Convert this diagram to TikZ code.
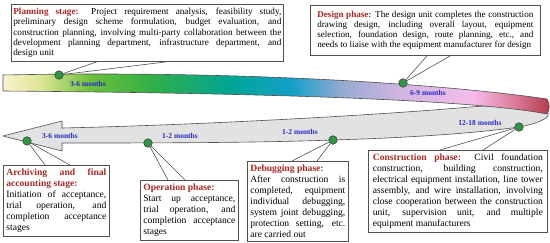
\documentclass[tikz,border=0pt]{standalone}
\usepackage{fontspec}
\setmainfont{Liberation Serif}
\usetikzlibrary{positioning,calc}

\definecolor{headred}{RGB}{168,40,40}
\definecolor{monthblue}{RGB}{40,40,200}
\definecolor{dotgreen}{RGB}{46,150,70}
\definecolor{bandgray}{RGB}{226,226,226}
\definecolor{edgegray}{RGB}{80,80,80}

\pgfdeclarehorizontalshading{ribbon}{100bp}{
  color(0bp)=(rgb,255:red,248;green,244;blue,205);
  color(25bp)=(rgb,255:red,248;green,244;blue,205);
  color(28.4bp)=(rgb,255:red,222;green,230;blue,150);
  color(33bp)=(rgb,255:red,110;green,190;blue,60);
  color(38.5bp)=(rgb,255:red,50;green,175;blue,70);
  color(45.9bp)=(rgb,255:red,0;green,165;blue,150);
  color(51.4bp)=(rgb,255:red,20;green,160;blue,200);
  color(56bp)=(rgb,255:red,150;green,170;blue,210);
  color(61.5bp)=(rgb,255:red,210;green,182;blue,225);
  color(67.9bp)=(rgb,255:red,245;green,188;blue,235);
  color(71.6bp)=(rgb,255:red,222;green,125;blue,155);
  color(75bp)=(rgb,255:red,175;green,60;blue,75);
  color(100bp)=(rgb,255:red,175;green,60;blue,75)}

\newcommand{\hd}[1]{\textbf{\color{headred}#1}}
\newcommand{\nobreaks}{\hyphenpenalty=10000 \exhyphenpenalty=10000 \tolerance=10000\relax}

\begin{document}
\begin{tikzpicture}[
    x=1pt, y=-1pt,
    box/.style={draw=edgegray, line width=0.7pt, fill=white, align=justify, anchor=north west,
      inner ysep=3.5pt, font=\fontsize{9.6}{11}\selectfont\nobreaks},
    topbox/.style={box, font=\fontsize{9.2}{10.4}\selectfont\nobreaks},
    dot/.style={circle, draw=black!75, fill=dotgreen, line width=0.6pt, minimum size=8.5pt, inner sep=0pt},
    month/.style={font=\fontsize{7.5}{8}\selectfont\bfseries, text=monthblue, inner sep=0pt},
    callout/.style={draw=edgegray, line width=0.6pt}
]
\useasboundingbox (0,0) rectangle (550,243);

% lower band, coming back as an arrow
\draw[fill=bandgray, draw=edgegray, line width=0.6pt]
  (62,128) .. controls (200,125) and (380,115) .. (470,107)
  .. controls (510,104) and (540,106) .. (548,113)
  .. controls (549,115) and (548,117) .. (546,118)
  .. controls (540,122) and (530,125) .. (519,127)
  .. controls (470,134) and (400,138) .. (333,140)
  .. controls (250,143) and (150,143) .. (62,143)
  -- (62,151) -- (3,136) -- (62,121) -- cycle;

% upper band
\draw[shading=ribbon, draw=edgegray, line width=0.6pt]
  (3,75) .. controls (250,70) and (450,85) .. (547,99)
  .. controls (550,104) and (550,110) .. (547,114)
  .. controls (470,99) and (250,93) .. (3,91) -- cycle;

% month labels
\node[month] (m1) at (88,84) {3-6 months};
\node[month] (m2) at (428,93) {6-9 months};
\node[month] (m3) at (480,123) {12-18 months};
\node[month] (m4) at (300,132) {1-2 months};
\node[month] (m5) at (180,136) {1-2 months};
\node[month] (m6) at (60,136) {3-6 months};

% text boxes
\node[topbox, text width=268pt, inner xsep=2pt] (plan) at (11,4)
  {\hd{Planning stage:} Project requirement analysis, feasibility study,\linebreak
   preliminary design scheme formulation, budget evaluation, and\linebreak
   construction planning, involving multi-party collaboration between the\linebreak
   development planning department, infrastructure department, and\linebreak
   design unit};
\node[topbox, text width=216pt, inner xsep=7pt, inner ysep=6pt,
  font=\fontsize{9.1}{10}\selectfont\nobreaks] (design) at (310,5)
  {\hd{Design phase:} The design unit completes the construction\linebreak
   drawing design, including overall layout, equipment\linebreak
   selection, foundation design, route planning, etc., and\linebreak
   needs to liaise with the equipment manufacturer for design};
\node[box, text width=170pt, inner xsep=4.5pt] (build) at (368,150)
  {\hd{Construction phase:} Civil foundation\linebreak
   construction, building construction,\linebreak
   electrical equipment installation, line tower\linebreak
   assembly, and wire installation, involving\linebreak
   close cooperation between the construction\linebreak
   unit, supervision unit, and multiple\linebreak
   equipment manufacturers};
\node[box, text width=95pt, inner xsep=3pt] (debug) at (247,161)
  {\hd{Debugging phase:}\newline
   After construction is\linebreak
   completed, equipment\linebreak
   individual debugging,\linebreak
   system joint debugging,\linebreak
   protection setting, etc.\linebreak
   are carried out};
\node[box, text width=92pt, inner xsep=3pt] (run) at (140,180)
  {\hd{Operation phase:}\newline
   Start up acceptance,\linebreak
   trial operation, and\linebreak
   completion acceptance\linebreak
   stages};
\node[box, text width=100pt, inner xsep=3pt] (archive) at (3,165)
  {\hd{Archiving and final}\linebreak
   \hd{accounting stage:}\newline
   Initiation of acceptance,\linebreak
   trial operation, and\linebreak
   completion acceptance\linebreak
   stages};

% callout feet on the boxes
\coordinate (planA) at ([xshift=86pt]plan.south west);
\coordinate (planB) at ([xshift=156pt]plan.south west);
\coordinate (designA) at ([xshift=117pt]design.south west);
\coordinate (designB) at ([xshift=140pt]design.south west);
\coordinate (buildA) at ([xshift=72pt]build.north west);
\coordinate (buildB) at ([xshift=115pt]build.north west);
\coordinate (debugA) at ([xshift=45pt]debug.north west);
\coordinate (debugB) at ([xshift=70pt]debug.north west);
\coordinate (runA) at ([xshift=28pt]run.north west);
\coordinate (runB) at ([xshift=45pt]run.north west);
\coordinate (archiveA) at ([xshift=42pt]archive.north west);
\coordinate (archiveB) at ([xshift=67pt]archive.north west);

% milestone dots
\node[dot] (dplan) at (59,75) {};
\node[dot] (ddesign) at (403,83) {};
\node[dot] (dbuild) at (519,127) {};
\node[dot] (ddebug) at (333,140) {};
\node[dot] (drun) at (148,143) {};
\node[dot] (darchive) at (27,141) {};

\draw[callout] (planA) -- (dplan) -- (planB);
\draw[callout] (designA) -- (ddesign) -- (designB);
\draw[callout] (buildA) -- (dbuild) -- (buildB);
\draw[callout] (debugA) -- (ddebug) -- (debugB);
\draw[callout] (runA) -- (drun) -- (runB);
\draw[callout] (archiveA) -- (darchive) -- (archiveB);
\end{tikzpicture}
\end{document}
